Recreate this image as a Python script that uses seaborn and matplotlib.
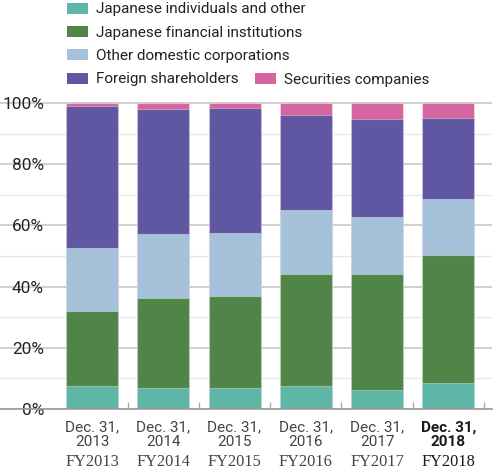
import matplotlib
matplotlib.use("Agg")
import matplotlib.pyplot as plt
import seaborn as sns
import numpy as np
import pandas as pd
from matplotlib.patches import Patch
from matplotlib.ticker import FixedLocator, FuncFormatter

# ---- data (percent of shares) ----
dates = ["Dec. 31,\n2013", "Dec. 31,\n2014", "Dec. 31,\n2015",
         "Dec. 31,\n2016", "Dec. 31,\n2017", "Dec. 31,\n2018"]
fiscal = ["FY2013", "FY2014", "FY2015", "FY2016", "FY2017", "FY2018"]
individuals = [7.4, 6.9, 6.9, 7.5, 6.2, 8.4]
financial = [24.5, 29.4, 29.9, 36.7, 38.0, 41.8]
other_corp = [20.6, 20.8, 20.7, 20.8, 18.6, 18.4]
foreign = [46.5, 41.0, 41.0, 31.1, 32.1, 26.5]
securities = [1.0, 1.9, 1.5, 3.9, 5.1, 4.9]
series_names = ["Japanese individuals and other", "Japanese financial institutions",
                "Other domestic corporations", "Foreign shareholders",
                "Securities companies"]
colors = ["#5db6a6", "#518548", "#a5c2da", "#6057a3", "#d6649e"]

sns.set_theme(style="white")
plt.rcParams['font.family'] = ['Roboto', 'DejaVu Sans']

W, H = 494, 471
fig = plt.figure(figsize=(W / 100, H / 100), dpi=100)
ax = fig.add_axes([0, 1 - 409 / H, 492 / W, (409 - 102.3) / H])

series = [individuals, financial, other_corp, foreign, securities]
cum = np.cumsum(np.array(series), axis=0)
df = pd.DataFrame({"period": dates})
for i, name in enumerate(series_names):
    df[name] = cum[i]

for i in reversed(range(len(series_names))):
    sns.barplot(data=df, x="period", y=series_names[i], color=colors[i],
                saturation=1, width=0.73, edgecolor=(1, 1, 1, 0.35),
                linewidth=0.8, ax=ax, zorder=2)

ax.set_xlim(-1.291, 5.613)
ax.set_ylim(0, 100.2)
ax.set_xlabel("")
ax.set_ylabel("")

# y axis grid and labels
ax.yaxis.set_major_locator(FixedLocator([0, 20, 40, 60, 80, 100]))
ax.yaxis.set_minor_locator(FixedLocator([10, 30, 50, 70, 90]))
ax.yaxis.set_major_formatter(FuncFormatter(lambda v, p: f"{v:.0f}%"))
ax.grid(which="major", axis="y", color="#c8c8c8", lw=1.2)
ax.grid(which="minor", axis="y", color="#e6e8ec", lw=1.0)
ax.grid(which="both", axis="x", visible=False)
ax.set_axisbelow(True)
ax.tick_params(axis="y", which="both", length=0, pad=-31.7,
               labelsize=12.4, labelcolor="#222222")

# x axis
ax.xaxis.set_minor_locator(FixedLocator([0.5, 1.5, 2.5, 3.5, 4.5, 5.5]))
ax.tick_params(axis="x", which="major", length=0, pad=8.3, labelsize=11,
               labelcolor="#444444")
ax.tick_params(axis="x", which="minor", direction="in", length=5,
               width=1, color="#aaaaaa", bottom=True)
for i, lbl in enumerate(ax.get_xticklabels()):
    lbl.set_linespacing(1.0)
    if i == len(dates) - 1:
        lbl.set_fontweight("bold")
        lbl.set_color("#1a1a1a")

for s in ["left", "right", "top"]:
    ax.spines[s].set_visible(False)
ax.spines["bottom"].set_color("#999999")
ax.spines["bottom"].set_linewidth(1.2)

trans = ax.get_xaxis_transform()
for i, fy in enumerate(fiscal):
    ax.text(i, (409 - 461.7) / (409 - 102.3), fy, transform=trans,
            ha="center", va="center", fontsize=11.8,
            family=["Liberation Serif", "DejaVu Serif"],
            color="#1a1a1a" if i == len(fiscal) - 1 else "#444444")

# legends
handles = [Patch(facecolor=c, edgecolor="none") for c in colors]
common = dict(frameon=False, borderpad=0, borderaxespad=0, handlelength=1.37,
              handleheight=0.72, handletextpad=0.54, labelspacing=0.61,
              fontsize=11, labelcolor="#222222", loc="upper left")
fig.legend(handles[:4], series_names[:4],
           bbox_to_anchor=(66.7 / W, 1.0 - 2.5 / H), **common)
fig.legend(handles[4:], series_names[4:],
           bbox_to_anchor=(255 / W, 1 - 73 / H), **common)

fig.savefig("out.png", dpi=100)
